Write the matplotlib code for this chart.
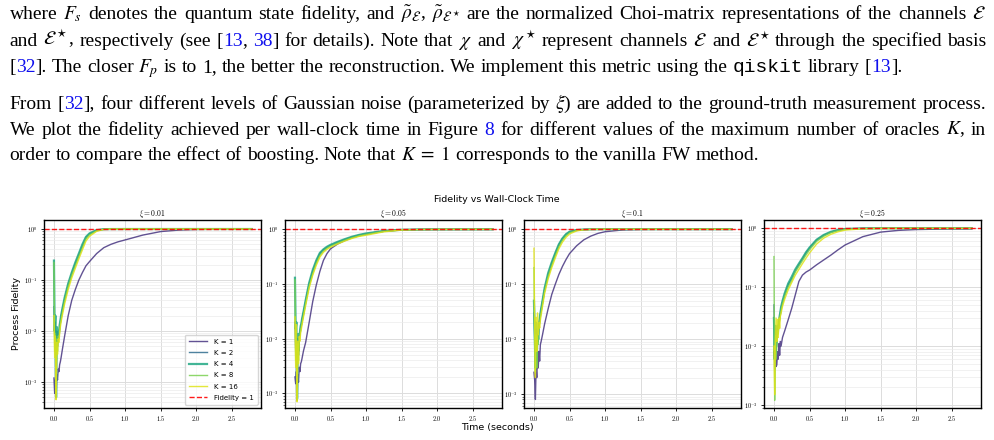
import matplotlib
matplotlib.use("Agg")
import numpy as np
import matplotlib.pyplot as plt
from matplotlib.ticker import FuncFormatter, FormatStrFormatter, NullFormatter
from matplotlib.transforms import IdentityTransform

plt.rcParams["mathtext.fontset"] = "cm"
plt.rcParams["font.family"] = ["DejaVu Sans"]

# ---------------- data ----------------
# wall-clock time (seconds), shared sampling for every run
t = [0.0, 0.01, 0.02, 0.03, 0.04, 0.05, 0.06, 0.07, 0.08, 0.09, 0.10,
     0.12, 0.15, 0.20, 0.25, 0.30, 0.35, 0.40, 0.45, 0.50,
     0.60, 0.70, 0.80, 0.90, 1.00, 1.25, 1.50, 1.75, 2.00, 2.40, 2.78]

xi_titles = [r"$\xi = 0.01$", r"$\xi = 0.05$", r"$\xi = 0.1$", r"$\xi = 0.25$"]
k_labels = ["K = 1", "K = 2", "K = 4", "K = 8", "K = 16"]

# xi = 0.01
xi001_k1 = [1.2e-3, 6e-4, 1.1e-3, 5e-4, 1.4e-3, 1.1e-3, 1.8e-3, 1.6e-3, 2.2e-3, 2.5e-3, 3.0e-3,
            4.5e-3, 8e-3, 0.020, 0.040, 0.065, 0.10, 0.14, 0.19, 0.23,
            0.33, 0.43, 0.50, 0.56, 0.61, 0.76, 0.89, 0.95, 0.98, 0.993, 0.996]
xi001_k2 = [0.03, 8e-3, 0.015, 3e-3, 0.010, 5e-3, 9e-3, 8e-3, 0.012, 0.015, 0.019,
            0.027, 0.042, 0.080, 0.135, 0.21, 0.31, 0.47, 0.68, 0.80,
            0.94, 0.99, 0.996, 0.997, 0.998, 0.998, 0.998, 0.998, 0.998, 0.998, 0.998]
xi001_k4 = [0.24, 0.010, 0.020, 5e-4, 0.012, 6e-3, 0.010, 9e-3, 0.013, 0.016, 0.020,
            0.028, 0.045, 0.085, 0.14, 0.22, 0.33, 0.50, 0.70, 0.82,
            0.95, 0.99, 0.996, 0.997, 0.998, 0.998, 0.998, 0.998, 0.998, 0.998, 0.998]
xi001_k8 = [0.22, 4e-3, 9e-3, 6e-4, 7e-3, 4e-3, 8e-3, 7e-3, 0.011, 0.014, 0.017,
            0.024, 0.039, 0.075, 0.125, 0.19, 0.29, 0.43, 0.64, 0.77,
            0.92, 0.985, 0.994, 0.996, 0.997, 0.997, 0.997, 0.997, 0.997, 0.997, 0.997]
xi001_k16 = [0.02, 3e-3, 8e-3, 4.5e-4, 6e-3, 3.5e-3, 7e-3, 6e-3, 9e-3, 0.012, 0.015,
             0.021, 0.034, 0.065, 0.11, 0.17, 0.26, 0.39, 0.58, 0.72,
             0.90, 0.98, 0.993, 0.995, 0.996, 0.996, 0.996, 0.996, 0.996, 0.996, 0.996]

# xi = 0.05
xi005_k1 = [2e-3, 1.5e-3, 2.5e-3, 7.5e-4, 2.2e-3, 1.6e-3, 3e-3, 2.5e-3, 3.5e-3, 3.8e-3, 4.4e-3,
            6e-3, 8.5e-3, 0.020, 0.048, 0.096, 0.17, 0.27, 0.36, 0.44,
            0.54, 0.62, 0.70, 0.76, 0.81, 0.92, 0.975, 0.99, 0.995, 0.997, 0.998]
xi005_k2 = [0.02, 6e-3, 0.012, 2.5e-3, 0.010, 5e-3, 0.011, 0.012, 0.016, 0.018, 0.022,
            0.030, 0.048, 0.10, 0.17, 0.26, 0.36, 0.42, 0.47, 0.51,
            0.58, 0.65, 0.72, 0.78, 0.83, 0.93, 0.98, 0.993, 0.996, 0.997, 0.998]
xi005_k4 = [0.13, 0.015, 0.020, 8e-4, 0.012, 6e-3, 0.012, 0.013, 0.017, 0.019, 0.023,
            0.031, 0.050, 0.105, 0.18, 0.27, 0.37, 0.43, 0.48, 0.52,
            0.59, 0.66, 0.73, 0.79, 0.84, 0.935, 0.98, 0.993, 0.996, 0.997, 0.998]
xi005_k8 = [0.12, 4e-3, 9e-3, 7.5e-4, 8e-3, 4e-3, 0.010, 0.011, 0.015, 0.017, 0.020,
            0.027, 0.044, 0.092, 0.155, 0.24, 0.33, 0.40, 0.45, 0.49,
            0.56, 0.63, 0.70, 0.76, 0.81, 0.92, 0.975, 0.99, 0.995, 0.997, 0.998]
xi005_k16 = [0.025, 3e-3, 0.018, 7e-4, 9e-3, 3.5e-3, 0.011, 9e-3, 0.013, 0.015, 0.018,
             0.025, 0.040, 0.085, 0.145, 0.22, 0.31, 0.38, 0.43, 0.47,
             0.54, 0.61, 0.68, 0.74, 0.78, 0.90, 0.97, 0.99, 0.995, 0.997, 0.998]

# xi = 0.1
xi01_k1 = [2.5e-3, 1.8e-3, 8e-4, 3e-3, 2e-3, 5e-3, 3e-3, 6e-3, 4e-3, 8e-3, 9e-3,
           0.012, 0.019, 0.036, 0.065, 0.10, 0.15, 0.21, 0.28, 0.36,
           0.50, 0.64, 0.75, 0.84, 0.90, 0.97, 0.992, 0.996, 0.997, 0.998, 0.998]
xi01_k2 = [0.03, 0.010, 5e-3, 0.015, 4e-3, 0.012, 9e-3, 0.018, 0.022, 0.028, 0.034,
           0.048, 0.080, 0.15, 0.24, 0.36, 0.52, 0.67, 0.80, 0.89,
           0.96, 0.985, 0.994, 0.996, 0.997, 0.998, 0.998, 0.998, 0.998, 0.998, 0.998]
xi01_k4 = [0.05, 0.015, 3e-3, 0.020, 5e-3, 0.013, 0.010, 0.019, 0.023, 0.029, 0.035,
           0.050, 0.085, 0.16, 0.25, 0.37, 0.53, 0.68, 0.81, 0.90,
           0.965, 0.987, 0.995, 0.997, 0.998, 0.998, 0.998, 0.998, 0.998, 0.998, 0.998]
xi01_k8 = [0.20, 8e-3, 2.5e-3, 0.012, 3e-3, 0.011, 8e-3, 0.016, 0.020, 0.026, 0.031,
           0.044, 0.075, 0.14, 0.22, 0.33, 0.48, 0.63, 0.76, 0.86,
           0.95, 0.98, 0.993, 0.996, 0.997, 0.997, 0.997, 0.997, 0.997, 0.997, 0.997]
xi01_k16 = [0.45, 0.020, 2e-3, 0.025, 6e-3, 0.030, 0.012, 0.020, 0.016, 0.022, 0.027,
            0.039, 0.068, 0.125, 0.20, 0.30, 0.44, 0.58, 0.71, 0.82,
            0.93, 0.975, 0.99, 0.995, 0.996, 0.996, 0.996, 0.996, 0.996, 0.996, 0.996]

# xi = 0.25
xi025_k1 = [8e-3, 6e-3, 0.010, 4.5e-3, 4.8e-3, 8e-3, 6e-3, 0.011, 7e-3, 0.012, 0.010,
            0.014, 0.018, 0.028, 0.044, 0.074, 0.125, 0.16, 0.18, 0.195,
            0.24, 0.29, 0.35, 0.43, 0.52, 0.72, 0.86, 0.92, 0.95, 0.97, 0.975]
xi025_k2 = [0.05, 4e-3, 0.020, 8e-3, 0.012, 0.020, 0.018, 0.025, 0.030, 0.036, 0.044,
            0.055, 0.074, 0.11, 0.14, 0.19, 0.24, 0.30, 0.38, 0.46,
            0.63, 0.76, 0.86, 0.93, 0.97, 0.993, 0.997, 0.998, 0.998, 0.998, 0.998]
xi025_k4 = [0.03, 6e-3, 0.022, 0.010, 0.014, 0.022, 0.020, 0.027, 0.032, 0.038, 0.046,
            0.058, 0.078, 0.115, 0.15, 0.20, 0.25, 0.31, 0.39, 0.47,
            0.64, 0.77, 0.87, 0.935, 0.972, 0.994, 0.997, 0.998, 0.998, 0.998, 0.998]
xi025_k8 = [0.33, 1.2e-3, 0.015, 6e-3, 0.010, 0.018, 0.016, 0.023, 0.028, 0.034, 0.041,
            0.052, 0.070, 0.10, 0.13, 0.18, 0.225, 0.28, 0.35, 0.43,
            0.60, 0.73, 0.84, 0.91, 0.96, 0.99, 0.996, 0.997, 0.997, 0.997, 0.997]
xi025_k16 = [0.010, 1.5e-3, 0.012, 0.030, 0.012, 0.028, 0.014, 0.030, 0.020, 0.032, 0.036,
             0.047, 0.062, 0.09, 0.12, 0.16, 0.20, 0.25, 0.31, 0.38,
             0.54, 0.68, 0.79, 0.87, 0.93, 0.98, 0.993, 0.996, 0.997, 0.997, 0.997]

panels = [
    [xi001_k1, xi001_k2, xi001_k4, xi001_k8, xi001_k16],
    [xi005_k1, xi005_k2, xi005_k4, xi005_k8, xi005_k16],
    [xi01_k1, xi01_k2, xi01_k4, xi01_k8, xi01_k16],
    [xi025_k1, xi025_k2, xi025_k4, xi025_k8, xi025_k16],
]

# paragraph above the figure; '#' marks blue references, backticks mark code
para_lines = [
    r"where $F_s$ denotes the quantum state fidelity, and $\tilde{\rho}_{\mathcal{E}}$, $\tilde{\rho}_{\mathcal{E}^\star}$ are the normalized Choi-matrix representations of the channels $\mathcal{E}$",
    r"and $\mathcal{E}^\star$, respectively (see [#13#, #38#] for details). Note that $\chi$ and $\chi^\star$ represent channels $\mathcal{E}$ and $\mathcal{E}^\star$ through the specified basis",
    r"[#32#]. The closer $F_p$ is to 1, the better the reconstruction. We implement this metric using the `qiskit` library [#13#].",
    r"From [#32#], four different levels of Gaussian noise (parameterized by $\xi$) are added to the ground-truth measurement process.",
    r"We plot the fidelity achieved per wall-clock time in Figure #8# for different values of the maximum number of oracles $K$, in",
    r"order to compare the effect of boosting. Note that $K\;=\;1$ corresponds to the vanilla FW method.",
]

# ---------------- drawing ----------------
W, H = 995, 440
fig = plt.figure(figsize=(W / 100, H / 100), dpi=100)
renderer = fig.canvas.get_renderer()

line_base = [19, 45.5, 72, 109, 134.5, 159.5]
line_just = [True, True, False, True, True, False]
x0, x1 = 9.5, 986
psize = 14


def put_line(s, ybase, justify):
    words = []
    for w in s.split(" "):
        segs = []
        if w.startswith("`"):
            parts = [(w.strip("`"), "black", "Liberation Mono")]
        else:
            parts = [(p, "#1010ee" if i % 2 else "black", "Liberation Serif")
                     for i, p in enumerate(w.split("#"))]
        for txt, col, fam in parts:
            if not txt:
                continue
            o = fig.text(0, 0, txt, transform=IdentityTransform(), fontsize=psize,
                         family=fam, color=col, math_fontfamily="stix",
                         ha="left", va="baseline")
            segs.append((o, o.get_window_extent(renderer).width))
        words.append(segs)
    widths = [sum(wd for _, wd in segs) for segs in words]
    if justify:
        gap = (x1 - x0 - sum(widths)) / (len(words) - 1)
    else:
        gap = psize * 100 / 72 * 0.25
    x = x0
    for segs, wsum in zip(words, widths):
        xx = x
        for o, wd in segs:
            o.set_position((xx, H - ybase))
            xx += wd
        x += wsum + gap


for s, yb, j in zip(para_lines, line_base, line_just):
    put_line(s, yb, j)

colors = plt.cm.viridis([0.15, 0.35, 0.6, 0.8, 0.95])
lws = [1.0, 1.0, 1.6, 1.0, 1.0]
ax_left = [44, 285, 524, 764]
ylims = [(3.1e-4, 1.5), (5.4e-4, 1.48), (5.6e-4, 1.47), (8.9e-4, 1.38)]

for i, series in enumerate(panels):
    ax = fig.add_axes([ax_left[i] / W, 32 / H, 217 / W, 188 / H])
    for j, vals in enumerate(series):
        ax.plot(t, vals, color=colors[j], lw=lws[j], alpha=0.85, label=k_labels[j])
    ax.axhline(1.0, color="red", ls="--", lw=1.0, alpha=0.9, label="Fidelity = 1")
    ax.set_yscale("log")
    ax.set_xlim(-0.14, 2.91)
    ax.set_ylim(*ylims[i])
    ax.set_xticks([0.0, 0.5, 1.0, 1.5, 2.0, 2.5])
    ax.xaxis.set_major_formatter(FormatStrFormatter("$%.1f$"))
    ax.yaxis.set_major_formatter(FuncFormatter(lambda v, p: r"$10^{%d}$" % round(np.log10(v))))
    ax.yaxis.set_minor_formatter(NullFormatter())
    ax.set_axisbelow(True)
    ax.grid(True, which="major", color="#dcdcdc", lw=0.7)
    ax.grid(True, which="minor", axis="y", color="#ebebeb", lw=0.5)
    ax.tick_params(which="major", labelsize=4.5, length=2.5, width=0.6, pad=2)
    ax.tick_params(which="minor", length=1.5, width=0.4)
    for sp in ax.spines.values():
        sp.set_linewidth(1.0)
    ax.set_title(xi_titles[i], fontsize=5.5, pad=2.5)
    if i == 0:
        ax.legend(loc="lower right", fontsize=5, labelspacing=0.75, handlelength=2.6,
                  handletextpad=1.0, borderpad=0.55, framealpha=0.8)

fig.text(497 / W, 1 - 199 / H, "Fidelity vs Wall-Clock Time", fontsize=6.8,
         ha="center", va="center")
fig.text(497.5 / W, 1 - 427 / H, "Time (seconds)", fontsize=6.8, ha="center", va="center")
fig.text(16.7 / W, 1 - 314 / H, "Process Fidelity", fontsize=6.8, rotation=90,
         ha="center", va="center")

fig.savefig("out.png", dpi=100)
